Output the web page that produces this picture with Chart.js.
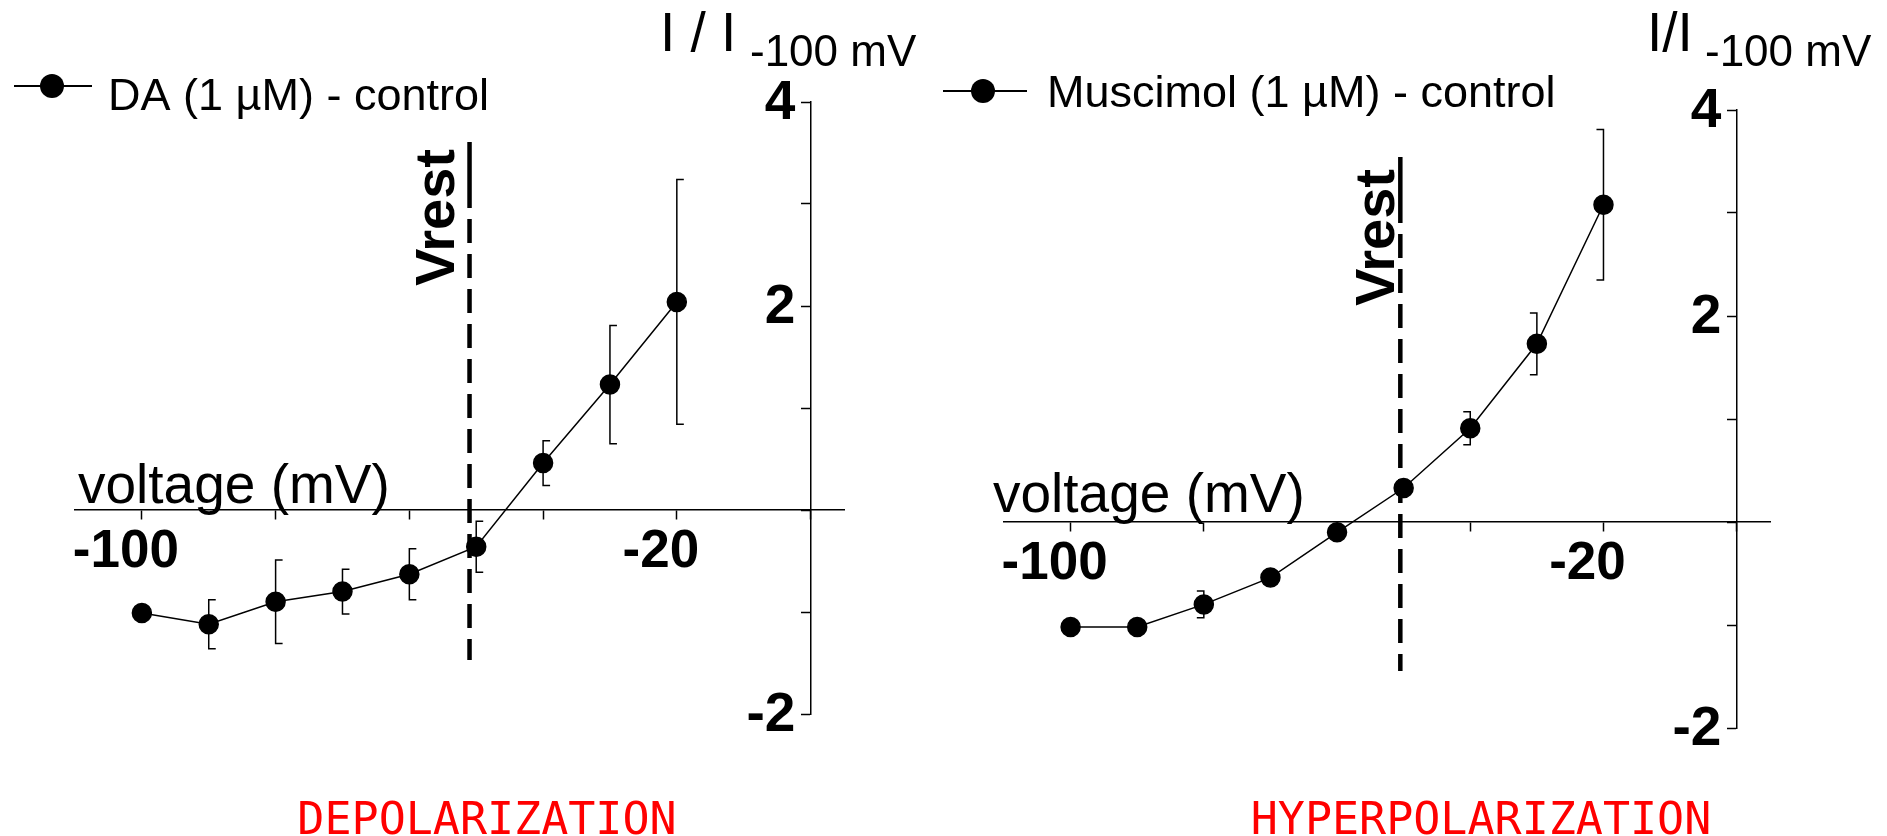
<!DOCTYPE html>
<html>
<head>
<meta charset="utf-8">
<script src="https://cdn.jsdelivr.net/npm/chart.js@4.4.1/dist/chart.umd.min.js"></script>
<style>
  html, body { margin: 0; padding: 0; background: #fff; }
  body { width: 1887px; height: 836px; position: relative; overflow: hidden; }
  .panel { position: absolute; top: 0; height: 836px; }
  #left { left: 0; width: 943px; }
  #right { left: 943px; width: 944px; }
</style>
</head>
<body>
<div class="panel" id="left"><canvas id="daChart" width="943" height="836"></canvas></div>
<div class="panel" id="right"><canvas id="muscChart" width="944" height="836"></canvas></div>
<script>
// membrane voltage steps (mV)
const voltages = [-100, -90, -80, -70, -60, -50, -40, -30, -20];
// I / I(-100 mV), drug minus control
const daValues = [-1.01, -1.12, -0.90, -0.80, -0.63, -0.36, 0.46, 1.23, 2.04];
const daErrors = [0, 0.24, 0.41, 0.22, 0.25, 0.25, 0.22, 0.58, 1.2];
const muscValues = [-1.02, -1.02, -0.80, -0.54, -0.10, 0.33, 0.91, 1.73, 3.08];
const muscErrors = [0, 0, 0.13, 0, 0, 0, 0.16, 0.30, 0.73];
const vrestDA = -51;
const vrestMusc = -50.5;

const xTicks = [-100, -80, -60, -40, -20, 0];
const xTickLabels = ['-100', '', '', '', '-20', ''];
const yTicks = [-2, -1, 0, 1, 2, 3, 4];
const yTickLabels = ['-2', '', '', '', '2', '', '4'];

const FONT = "'Liberation Sans', Arial, sans-serif";

const decor = {
  id: 'decor',
  beforeDatasetsDraw(chart, args, o) {
    const ctx = chart.ctx, xs = chart.scales.x, ys = chart.scales.y;
    ctx.save();
    ctx.strokeStyle = '#000';
    ctx.lineWidth = 1.5;
    o.values.forEach((v, i) => {
      const e = o.errors[i];
      if (!e) return;
      const px = xs.getPixelForValue(voltages[i]);
      const top = ys.getPixelForValue(v + e);
      const bot = ys.getPixelForValue(v - e);
      ctx.beginPath();
      ctx.moveTo(px + o.capSide * 7, top);
      ctx.lineTo(px, top);
      ctx.lineTo(px, bot);
      ctx.lineTo(px + o.capSide * 7, bot);
      ctx.stroke();
    });
    ctx.restore();
  },
  afterDraw(chart, args, o) {
    const ctx = chart.ctx, xs = chart.scales.x;
    ctx.save();
    // Vrest marker
    const vx = xs.getPixelForValue(o.vrest);
    ctx.strokeStyle = '#000';
    ctx.lineWidth = 4.5;
    ctx.beginPath();
    ctx.moveTo(vx, o.vTop);
    ctx.lineTo(vx, o.vTop + 66);
    ctx.stroke();
    ctx.setLineDash([24, 11]);
    ctx.beginPath();
    ctx.moveTo(vx, o.vTop + 77);
    ctx.lineTo(vx, o.vBottom);
    ctx.stroke();
    ctx.setLineDash([]);
    ctx.fillStyle = '#000';
    ctx.save();
    ctx.translate(vx - o.vGap, o.vTextY);
    ctx.rotate(-Math.PI / 2);
    ctx.font = 'bold 56px ' + FONT;
    ctx.textAlign = 'left';
    ctx.textBaseline = 'alphabetic';
    ctx.fillText('Vrest', 0, 0);
    ctx.restore();

    // legend
    ctx.lineWidth = 2;
    ctx.beginPath();
    ctx.moveTo(o.legX1, o.legY);
    ctx.lineTo(o.legX2, o.legY);
    ctx.stroke();
    ctx.beginPath();
    ctx.arc(o.legDot, o.legY, 12, 0, Math.PI * 2);
    ctx.fill();
    ctx.font = '45px ' + FONT;
    ctx.textAlign = 'left';
    ctx.fillText(chart.data.datasets[0].label, o.legTextX, o.legTextY);

    // axis title
    ctx.font = '55px ' + FONT;
    ctx.fillText(o.title, o.titleX, 51);
    ctx.font = '44px ' + FONT;
    ctx.fillText('-100 mV', o.subX, 66);

    // x axis name
    ctx.font = '55px ' + FONT;
    ctx.fillText('voltage (mV)', o.xNameX, o.xNameY);

    // caption
    ctx.fillStyle = '#ff0000';
    ctx.font = "45px 'DejaVu Sans Mono', monospace";
    ctx.textAlign = 'center';
    ctx.fillText(o.caption, o.capX, 834);
    ctx.restore();
  }
};

function makeChart(id, label, values, errors, vrest, p) {
  return new Chart(document.getElementById(id), {
    type: 'scatter',
    data: {
      datasets: [{
        label: label,
        data: voltages.map((v, i) => ({ x: v, y: values[i] })),
        showLine: true,
        borderColor: '#000',
        borderWidth: 1.5,
        backgroundColor: '#000',
        pointBorderColor: '#000',
        pointRadius: 9.5,
        pointHoverRadius: 9.5
      }]
    },
    options: {
      responsive: false,
      animation: false,
      events: [],
      layout: { padding: p.pad },
      plugins: {
        legend: { display: false },
        tooltip: { enabled: false },
        decor: Object.assign({ values: values, errors: errors, vrest: vrest }, p.decor)
      },
      scales: {
        x: {
          type: 'linear', min: -110, max: 5,
          position: { y: 0 },
          afterBuildTicks: s => { s.ticks = xTicks.map(v => ({ value: v })); },
          ticks: {
            autoSkip: false, maxRotation: 0, padding: 2, labelOffset: -16, color: '#000',
            font: { family: FONT, size: 53, weight: 'bold' },
            callback: (v, i) => xTickLabels[i]
          },
          grid: { drawOnChartArea: false, drawTicks: true, tickLength: 9, tickColor: '#000', tickWidth: 1.5 },
          border: { color: '#000', width: 1.5 }
        },
        y: {
          type: 'linear', min: -2, max: 4,
          position: { x: 0 },
          afterBuildTicks: s => { s.ticks = yTicks.map(v => ({ value: v })); },
          ticks: {
            autoSkip: false, padding: 10, labelOffset: 2, color: '#000',
            font: { family: FONT, size: 55, weight: 'bold' },
            // a centred y axis draws labels flush with the line, the trailing space keeps them clear of it
            callback: (v, i) => yTickLabels[i] ? yTickLabels[i] + ' ' : ''
          },
          grid: { drawOnChartArea: false, drawTicks: true, tickLength: 9, tickColor: '#000', tickWidth: 1.5 },
          border: { color: '#000', width: 1.5 }
        }
      }
    },
    plugins: [decor]
  });
}

makeChart('daChart', 'DA (1 \u00b5M) - control', daValues, daErrors, vrestDA, {
  pad: { left: 75, right: 99, top: 102, bottom: 122 },
  decor: {
    capSide: 1, vTop: 142, vBottom: 660, vGap: 16, vTextY: 286,
    legX1: 14, legX2: 92, legDot: 52, legY: 86, legTextX: 108, legTextY: 110,
    title: 'I / I', titleX: 660, subX: 750,
    xNameX: 78, xNameY: 503,
    caption: 'DEPOLARIZATION', capX: 487
  }
});

makeChart('muscChart', 'Muscimol (1 \u00b5M) - control', muscValues, muscErrors, vrestMusc, {
  pad: { left: 61, right: 117, top: 110, bottom: 108 },
  decor: {
    capSide: -1, vTop: 157, vBottom: 671, vGap: 6, vTextY: 306,
    legX1: -3, legX2: 84, legDot: 40, legY: 91, legTextX: 104, legTextY: 107,
    title: 'I/I', titleX: 704, subX: 762,
    xNameX: 50, xNameY: 512,
    caption: 'HYPERPOLARIZATION', capX: 538
  }
});
</script>
</body>
</html>
